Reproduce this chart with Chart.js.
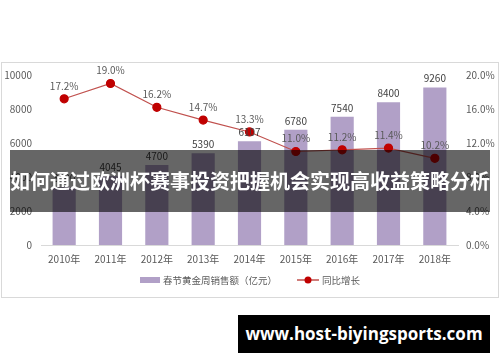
<!DOCTYPE html>
<html lang="zh">
<head>
    <meta charset="UTF-8">
    <title>春节黄金周销售额</title>
    <script src="https://cdn.jsdelivr.net/npm/chart.js"></script>
    <style>
        body { margin: 0; width: 500px; height: 362px; background: #fff; position: relative; overflow: hidden; font-family: "Noto Sans CJK SC", sans-serif; }
        #frame { position: absolute; left: 1px; top: 62px; width: 496px; height: 234px; border: 1px solid #d9d9d9; }
        #banner { position: absolute; left: 10px; top: 150px; width: 480px; height: 62px; background: rgba(0,0,0,0.6);
                  color: #fff; font-weight: bold; font-size: 20px; line-height: 62px; text-align: center; white-space: nowrap; }
        #mark { position: absolute; left: 238px; top: 315px; width: 252px; height: 38px; background: #000;
                color: #fff; font-family: "Open Sans", sans-serif; font-weight: bold; font-size: 17px; line-height: 38px; text-align: center; }
    </style>
</head>
<body>

<div id="frame"><canvas id="myChart" width="496" height="234"></canvas></div>
<div id="banner">如何通过欧洲杯赛事投资把握机会实现高收益策略分析</div>
<div id="mark">www.host-biyingsports.com</div>

<script>
// 数据
const years = ['2010年', '2011年', '2012年', '2013年', '2014年', '2015年', '2016年', '2017年', '2018年'];
const sales = [3400, 4045, 4700, 5390, 6107, 6780, 7540, 8400, 9260];
const growth = [17.2, 19.0, 16.2, 14.7, 13.3, 11.0, 11.2, 11.4, 10.2];

const barColor = '#b1a0c7';
const lineColor = '#c0504d';
const dotColor = '#c00000';
const textColor = '#595959';
const font = '"Noto Sans CJK SC", sans-serif';

// 数据标签和图例
const labelsPlugin = {
    id: 'labels',
    afterDatasetsDraw(chart) {
        const ctx = chart.ctx;
        ctx.save();
        ctx.font = '10px ' + font;
        ctx.textAlign = 'center';
        ctx.textBaseline = 'bottom';
        chart.getDatasetMeta(1).data.forEach((bar, i) => {
            ctx.fillStyle = '#404040';
            ctx.fillText(sales[i], bar.x, bar.y - 4);
        });
        chart.getDatasetMeta(0).data.forEach((pt, i) => {
            ctx.fillStyle = textColor;
            ctx.fillText(growth[i].toFixed(1) + '%', pt.x, pt.y - 8);
        });

        // 图例
        ctx.font = '9.5px ' + font;
        ctx.textAlign = 'left';
        ctx.textBaseline = 'middle';
        const t1 = chart.data.datasets[1].label, t2 = chart.data.datasets[0].label;
        const w1 = ctx.measureText(t1).width, w2 = ctx.measureText(t2).width;
        const total = 20 + 3 + w1 + 20 + 22 + 3 + w2;
        let x = chart.width / 2 - total / 2;
        const y = 217;
        ctx.fillStyle = barColor;
        ctx.fillRect(x, y - 3, 20, 6);
        x += 23;
        ctx.fillStyle = textColor;
        ctx.fillText(t1, x, y);
        x += w1 + 20;
        ctx.strokeStyle = lineColor;
        ctx.lineWidth = 1.5;
        ctx.beginPath(); ctx.moveTo(x, y); ctx.lineTo(x + 22, y); ctx.stroke();
        ctx.fillStyle = dotColor;
        ctx.beginPath(); ctx.arc(x + 11, y, 3.5, 0, Math.PI * 2); ctx.fill();
        x += 25;
        ctx.fillStyle = textColor;
        ctx.fillText(t2, x, y);
        ctx.restore();
    }
};

const ctx = document.getElementById('myChart').getContext('2d');
new Chart(ctx, {
    data: {
        labels: years,
        datasets: [{
            type: 'line',
            label: '同比增长',
            data: growth,
            yAxisID: 'y1',
            borderColor: lineColor,
            borderWidth: 1.2,
            pointBackgroundColor: dotColor,
            pointBorderColor: dotColor,
            pointRadius: 4,
            order: 0
        }, {
            type: 'bar',
            label: '春节黄金周销售额（亿元）',
            data: sales,
            yAxisID: 'y',
            backgroundColor: barColor,
            barPercentage: 0.5,
            categoryPercentage: 1,
            order: 1
        }]
    },
    options: {
        responsive: false,
        animation: false,
        layout: { padding: { top: 12, left: 0, right: 0, bottom: 0 } },
        plugins: {
            legend: { display: false },
            tooltip: { enabled: false }
        },
        scales: {
            x: {
                grid: { display: false },
                border: { color: '#d9d9d9' },
                ticks: { color: textColor, font: { size: 10, family: font }, padding: 0, maxRotation: 0 },
                afterFit: s => { s.height = 52; }
            },
            y: {
                min: 0, max: 10000,
                ticks: { stepSize: 2000, color: textColor, font: { size: 10, family: font }, padding: 1,
                         callback: v => String(v) },
                grid: { display: false },
                border: { display: false },
                afterFit: s => { s.width = 39; }
            },
            y1: {
                position: 'right',
                min: 0, max: 20,
                ticks: { stepSize: 4, color: textColor, font: { size: 10, family: font }, padding: 0,
                         callback: v => v.toFixed(1) + '%' },
                grid: { display: false },
                border: { display: false },
                afterFit: s => { s.width = 40; }
            }
        }
    },
    plugins: [labelsPlugin]
});
</script>

</body>
</html>
